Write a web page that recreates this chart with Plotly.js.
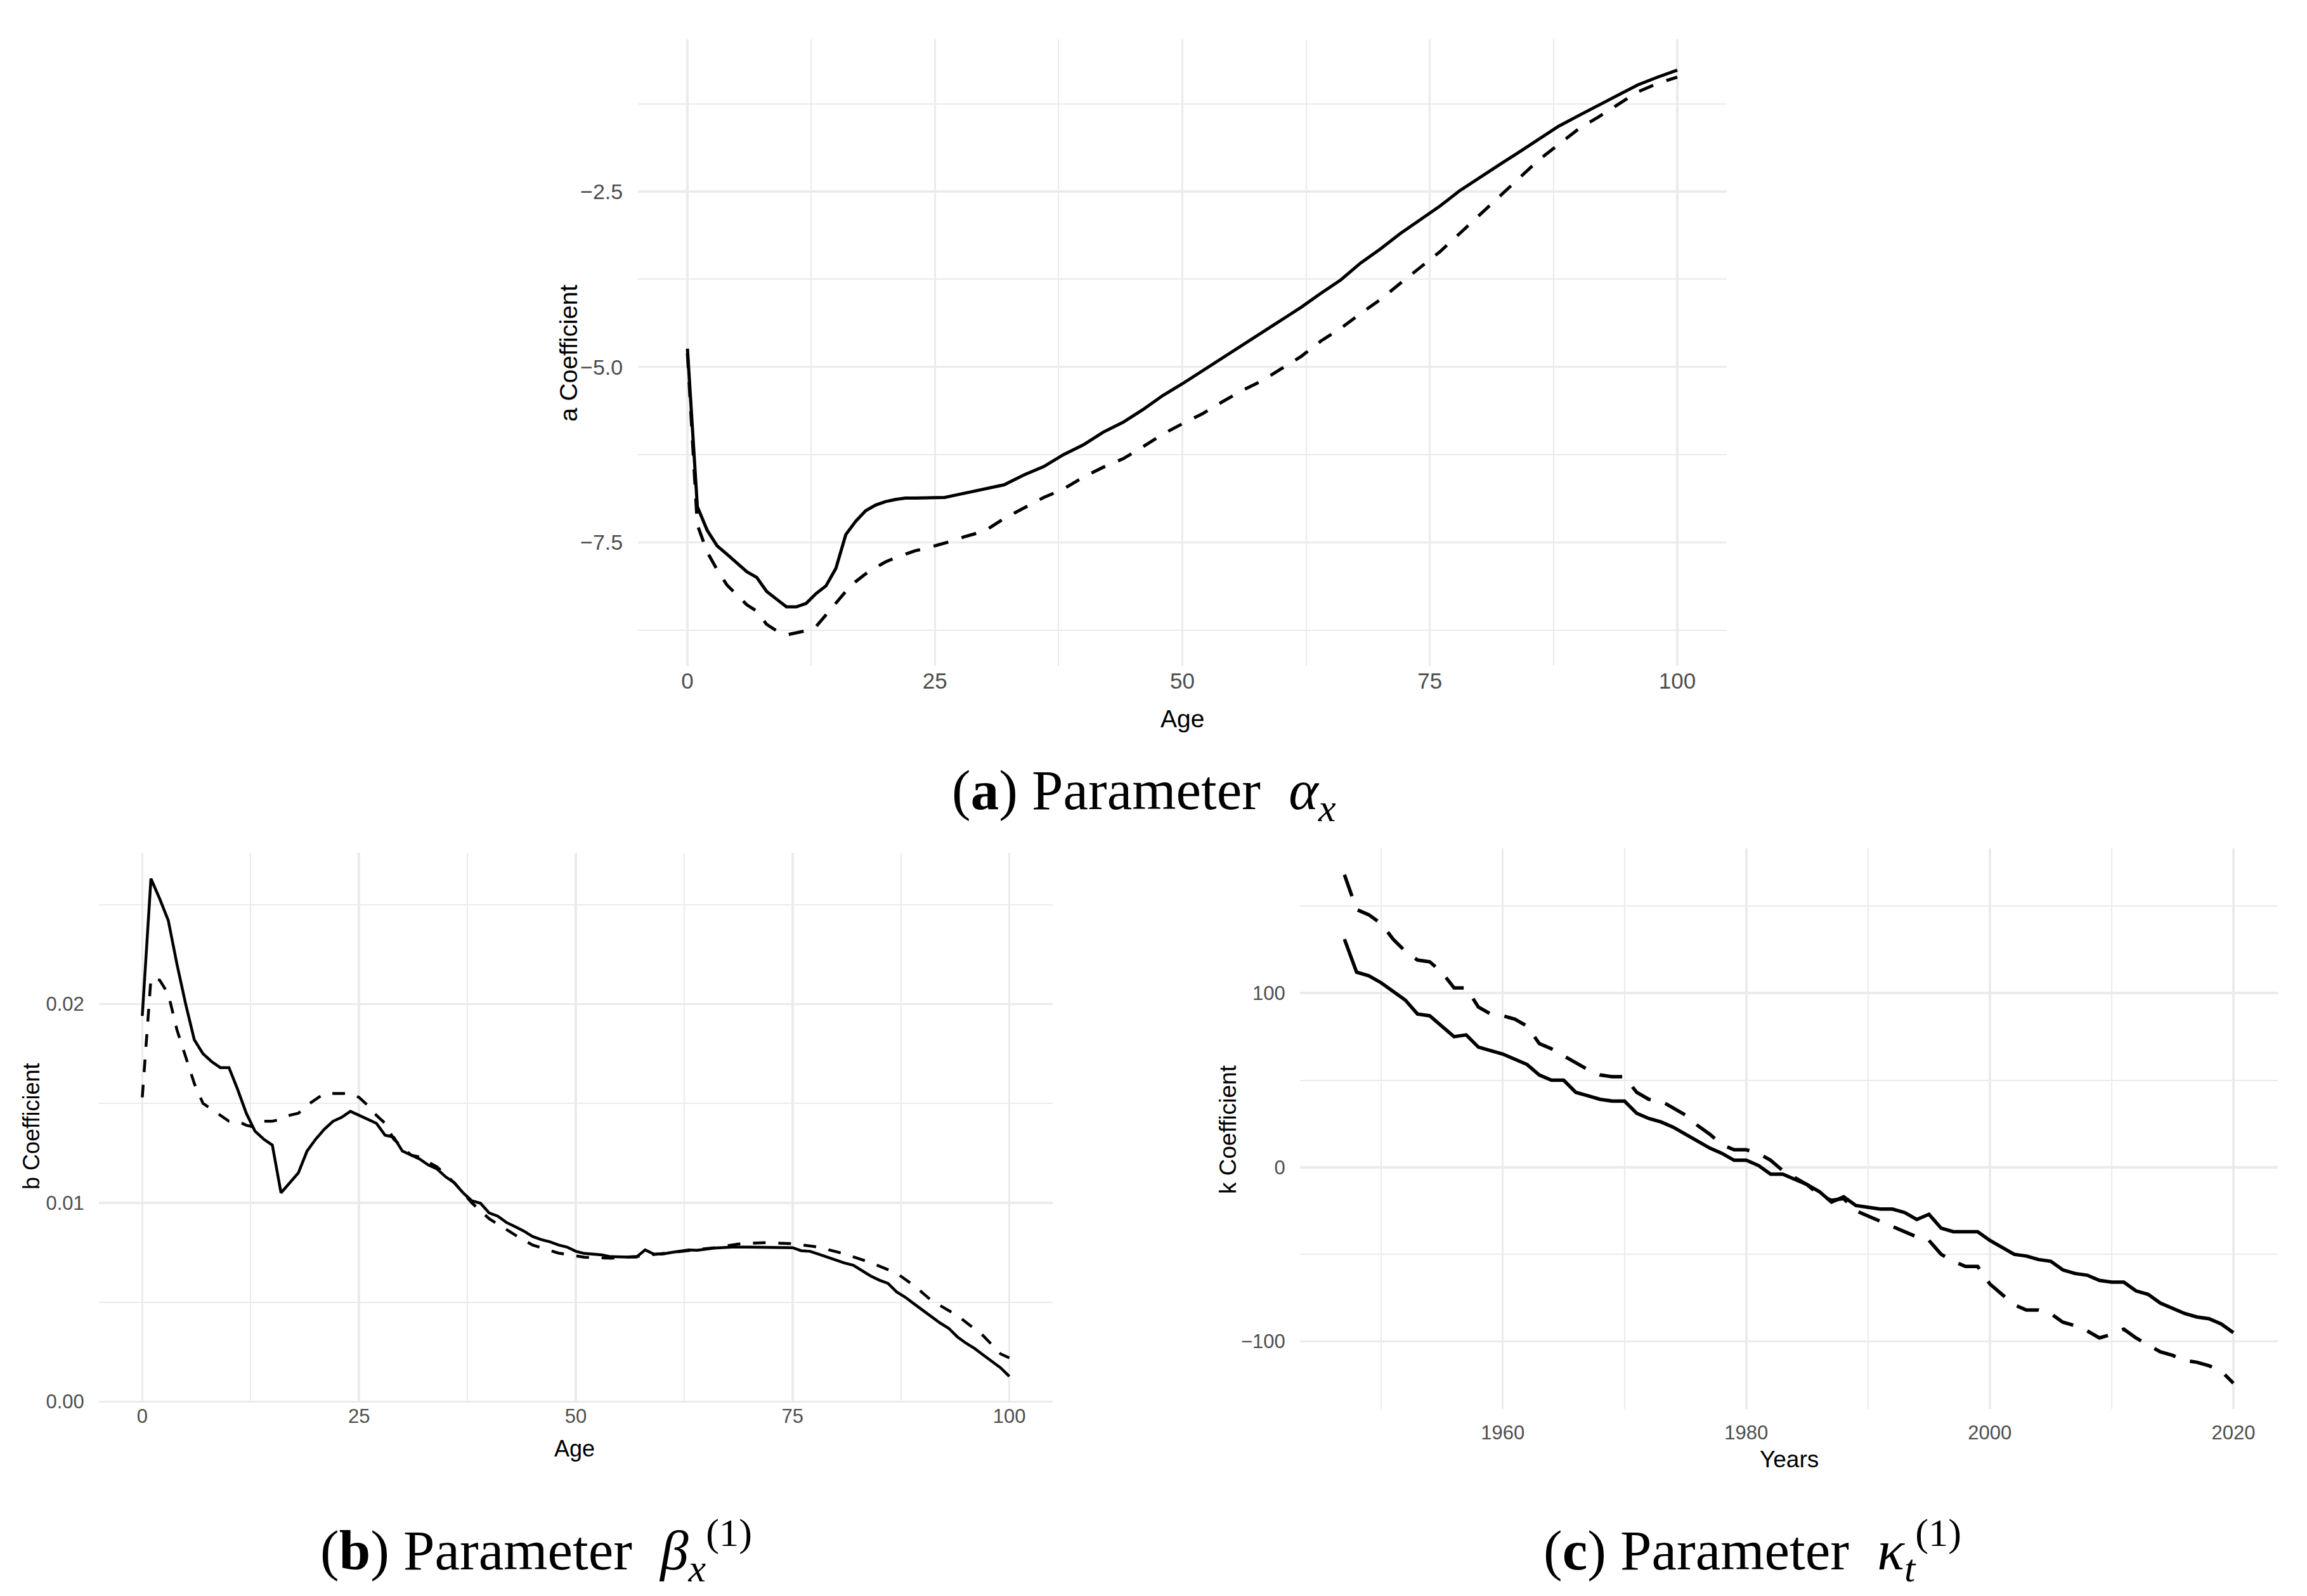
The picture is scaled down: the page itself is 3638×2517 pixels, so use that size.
<!DOCTYPE html>
<html>
<head>
<meta charset="utf-8">
<script src="https://cdn.plot.ly/plotly-3.0.1.min.js"></script>
<style>
  html, body { margin: 0; padding: 0; background: #ffffff; }
  #chart { width: 3638px; height: 2517px; }
</style>
</head>
<body>
<div id="chart"></div>
<script>
// (a) alpha_x by age, solid and dashed fits
const alphaAgesSolid = [0, 1, 2, 3, 4, 5, 6, 7, 8, 9, 10, 11, 12, 13, 14, 15, 16, 17, 18, 19, 20,
  21, 22, 23, 24, 25, 26, 27, 28, 29, 30, 32, 34, 36, 38, 40, 42, 44, 46, 48, 50, 52, 54, 56, 58,
  60, 62, 64, 66, 68, 70, 72, 74, 76, 78, 80, 82, 84, 86, 88, 90, 92, 94, 96, 98, 100];
const alphaSolid = [-4.74, -6.99, -7.33, -7.55, -7.67, -7.80, -7.92, -8.00, -8.20, -8.31, -8.42,
  -8.42, -8.37, -8.23, -8.12, -7.87, -7.39, -7.20, -7.05, -6.97, -6.92, -6.89, -6.87, -6.87, -6.87,
  -6.87, -6.86, -6.83, -6.80, -6.78, -6.75, -6.68, -6.54, -6.42, -6.25, -6.11, -5.93, -5.79, -5.61,
  -5.41, -5.24, -5.06, -4.88, -4.70, -4.51, -4.33, -4.15, -3.95, -3.76, -3.52, -3.32, -3.10, -2.90,
  -2.71, -2.49, -2.30, -2.12, -1.94, -1.76, -1.57, -1.42, -1.27, -1.13, -0.98, -0.87, -0.77];
const alphaAgesDashed = alphaAgesSolid;
const alphaDashed = [-4.80, -7.25, -7.64, -7.89, -8.11, -8.25, -8.39, -8.48, -8.67, -8.76, -8.82,
  -8.79, -8.76, -8.70, -8.53, -8.36, -8.20, -8.06, -7.95, -7.86, -7.78, -7.72, -7.67, -7.62, -7.59,
  -7.55, -7.52, -7.47, -7.42, -7.38, -7.34, -7.16, -7.01, -6.86, -6.74, -6.57, -6.43, -6.31, -6.14,
  -5.96, -5.81, -5.67, -5.50, -5.34, -5.20, -5.03, -4.85, -4.63, -4.45, -4.24, -4.04, -3.81, -3.59,
  -3.36, -3.10, -2.84, -2.58, -2.32, -2.05, -1.83, -1.61, -1.44, -1.26, -1.08, -0.96, -0.87];

// (b) beta_x by age
const betaAgesSolid = [0, 1, 2, 3, 4, 5, 6, 7, 8, 9, 10, 11, 12, 13, 14, 15, 16, 17, 18, 19, 20,
  21, 22, 23, 24, 25, 26, 27, 28, 29, 30, 31, 32, 33, 34, 35, 36, 37, 38, 39, 40, 41, 42, 43, 44,
  45, 46, 47, 48, 49, 50, 51, 52, 53, 54, 55, 56, 57, 58, 59, 60, 61, 62, 63, 64, 65, 66, 67, 68,
  70, 72, 74, 75, 76, 77, 78, 79, 80, 81, 82, 83, 84, 85, 86, 87, 88, 89, 90, 91, 92, 93, 94, 95,
  96, 97, 98, 99, 100];
const betaSolid = [0.0194, 0.0263, 0.0253, 0.0242, 0.0220, 0.0200, 0.0182, 0.0175, 0.0171, 0.0168,
  0.0168, 0.0157, 0.0145, 0.0136, 0.0132, 0.0129, 0.0105, 0.0110, 0.0115, 0.0126, 0.0132, 0.0137,
  0.0141, 0.0143, 0.0146, 0.0144, 0.0142, 0.0140, 0.0134, 0.0133, 0.0126, 0.0124, 0.0122, 0.0119,
  0.0117, 0.0113, 0.0110, 0.0105, 0.0101, 0.00998, 0.00949, 0.00933, 0.00901, 0.00880, 0.00858,
  0.00831, 0.00815, 0.00804, 0.00788, 0.00777, 0.00756, 0.00745, 0.00742, 0.00738, 0.00729,
  0.00727, 0.00727, 0.00727, 0.00763, 0.00742, 0.00742, 0.00750, 0.00756, 0.00763, 0.00761,
  0.00767, 0.00772, 0.00775, 0.00777, 0.00777, 0.00777, 0.00777, 0.00774, 0.00759, 0.00756,
  0.00742, 0.00727, 0.00713, 0.00697, 0.00686, 0.00659, 0.00632, 0.00611, 0.00595, 0.00552,
  0.00525, 0.00492, 0.00460, 0.00428, 0.00396, 0.00369, 0.00326, 0.00294, 0.00267, 0.00234,
  0.00202, 0.00170, 0.00127];
const betaAgesDashed = [0, 1, 2, 3, 4, 5, 6, 7, 8, 9, 10, 11, 12, 13, 14, 15, 16, 17, 18, 19, 20,
  21, 22, 23, 24, 25, 26, 27, 28, 29, 30, 31, 32, 34, 36, 38, 40, 43, 45, 48, 51, 54, 57, 60, 63,
  66, 69, 72, 75, 78, 81, 84, 87, 89, 91, 94, 97, 99, 100];
const betaDashed = [0.0153, 0.0213, 0.0212, 0.0205, 0.0187, 0.0173, 0.0160, 0.0150, 0.0147,
  0.0144, 0.0141, 0.0141, 0.0139, 0.0138, 0.0141, 0.0141, 0.0142, 0.0144, 0.0145, 0.0149, 0.0152,
  0.0155, 0.0155, 0.0155, 0.0155, 0.0153, 0.0149, 0.0144, 0.0140, 0.0132, 0.0128, 0.0124, 0.0123,
  0.0118, 0.0110, 0.0100, 0.0092, 0.00838, 0.00788, 0.00747, 0.00726, 0.00721, 0.00730, 0.00745,
  0.00761, 0.00774, 0.00794, 0.00800, 0.00794, 0.00777, 0.00743, 0.00699, 0.00646, 0.00584,
  0.00509, 0.00433, 0.00331, 0.00240, 0.00220];

// (c) kappa_t by year
const kappaYears = [1947, 1948, 1949, 1950, 1951, 1952, 1953, 1954, 1955, 1956, 1957, 1958, 1959,
  1960, 1961, 1962, 1963, 1964, 1965, 1966, 1967, 1968, 1969, 1970, 1971, 1972, 1973, 1974, 1975,
  1976, 1977, 1978, 1979, 1980, 1981, 1982, 1983, 1984, 1985, 1986, 1987, 1988, 1989, 1990, 1991,
  1992, 1993, 1994, 1995, 1996, 1997, 1998, 1999, 2000, 2001, 2002, 2003, 2004, 2005, 2006, 2007,
  2008, 2009, 2010, 2011, 2012, 2013, 2014, 2015, 2016, 2017, 2018, 2019, 2020];
const kappaSolid = [131, 112, 110, 106, 101, 96, 88, 87, 81, 75, 76, 69, 67, 65, 62, 59, 53, 50, 50,
  43, 41, 39, 38, 38, 31, 28, 26, 23, 19, 15, 11, 8, 4, 4, 1, -4, -4, -7, -10, -14, -20, -17, -22,
  -23, -24, -24, -26, -30, -27, -35, -37, -37, -37, -42, -46, -50, -51, -53, -54, -59, -61, -62,
  -65, -66, -66, -71, -73, -78, -81, -84, -86, -87, -90, -95];
const kappaDashed = [168, 148, 145, 140, 131, 124, 119, 118, 112, 103, 103, 92, 88, 87, 85, 81, 71,
  68, 64, 60, 56, 53, 52, 52, 43, 39, 38, 34, 30, 24, 19, 13, 10, 10, 8, 4, -2, -6, -10, -16, -19,
  -18, -25, -28, -31, -34, -37, -40, -42, -50, -54, -57, -57, -67, -73, -79, -82, -82, -84, -89,
  -91, -94, -98, -96, -93, -98, -102, -106, -108, -111, -112, -114, -117, -124];

const W = 3638;
const H = 2517;
const sansFont = "Liberation Sans, Arial, sans-serif";
const serifFont = "Liberation Serif, Times New Roman, serif";
const gridColor = "#EBEBEB";
const tickColor = "#4D4D4D";

// paper coordinates from pixel positions on the page
const px = (x) => x / W;
const py = (y) => 1 - y / H;

const lineTrace = (x, y, xa, ya, width, dash) => ({
  type: "scatter",
  mode: "lines",
  x: x,
  y: y,
  xaxis: xa,
  yaxis: ya,
  showlegend: false,
  hoverinfo: "skip",
  line: { color: "#000000", width: width, dash: dash },
});

// ggplot-like minimal axis: no lines, light major + minor grid, labels pushed off by invisible ticks
const axis = (domain, range, dtick, minorTick, fontSize, standoff, extra) =>
  Object.assign(
    {
      domain: domain,
      range: range,
      dtick: dtick,
      tick0: 0,
      showgrid: true,
      gridcolor: gridColor,
      gridwidth: 3.5,
      zeroline: false,
      showline: false,
      ticks: standoff > 0 ? "outside" : "",
      ticklen: standoff,
      tickcolor: "rgba(0,0,0,0)",
      tickfont: { family: sansFont, size: fontSize, color: tickColor },
      minor: { dtick: minorTick, showgrid: true, gridcolor: gridColor, gridwidth: 2 },
      fixedrange: true,
    },
    extra || {}
  );

const axisTitle = (text, x, y, size, angle) => ({
  text: text,
  xref: "paper",
  yref: "paper",
  x: px(x),
  y: py(y),
  xanchor: "center",
  yanchor: "middle",
  showarrow: false,
  textangle: angle || 0,
  font: { family: sansFont, size: size, color: "#000000" },
});

const caption = (text, x, y) => ({
  text: text,
  xref: "paper",
  yref: "paper",
  x: px(x),
  y: py(y),
  xanchor: "center",
  yanchor: "middle",
  showarrow: false,
  font: { family: serifFont, size: 89, color: "#000000" },
});

const data = [
  lineTrace(alphaAgesSolid, alphaSolid, "x", "y", 5, "solid"),
  lineTrace(alphaAgesDashed, alphaDashed, "x", "y", 5, "24px,22px"),
  lineTrace(betaAgesSolid, betaSolid, "x2", "y2", 4.5, "solid"),
  lineTrace(betaAgesDashed, betaDashed, "x2", "y2", 4.5, "20px,20px"),
  lineTrace(kappaYears, kappaSolid, "x3", "y3", 5.5, "solid"),
  lineTrace(kappaYears, kappaDashed, "x3", "y3", 5.5, "36px,24px"),
];

const layout = {
  width: W,
  height: H,
  margin: { l: 0, r: 0, t: 0, b: 0 },
  paper_bgcolor: "#ffffff",
  plot_bgcolor: "#ffffff",
  showlegend: false,
  xaxis: axis([px(1006), px(2723)], [-5, 105], 25, 12.5, 35, 0, { anchor: "y" }),
  yaxis: axis([py(1050), py(62)], [-9.26, -0.33], 2.5, 1.25, 34, 16, {
    anchor: "x",
    tickformat: ".1f",
  }),
  xaxis2: axis([px(156), px(1660)], [-5, 105], 25, 12.5, 31, 0, { anchor: "y2" }),
  yaxis2: axis([py(2212), py(1345)], [-0.00005, 0.0276], 0.01, 0.005, 31, 16, {
    anchor: "x2",
    tickformat: ".2f",
  }),
  xaxis3: axis([px(2050), px(3592)], [1943.35, 2023.65], 20, 10, 31, 10, {
    anchor: "y3",
    tick0: 1960,
    minor: { dtick: 10, tick0: 1950, showgrid: true, gridcolor: gridColor, gridwidth: 2 },
  }),
  yaxis3: axis([py(2222), py(1338)], [-138.8, 183.1], 100, 50, 31, 16, { anchor: "x3" }),
  annotations: [
    axisTitle("Age", 1864, 1133, 39),
    axisTitle("a Coefficient", 896, 557, 39, -90),
    axisTitle("Age", 906, 2284, 36),
    axisTitle("b Coefficient", 49, 1777, 36, -90),
    axisTitle("Years", 2821, 2301, 37),
    axisTitle("k Coefficient", 1936, 1781, 37, -90),
    caption("(<b>a</b>) Parameter  <i>α<sub>x</sub></i>", 1804, 1252),
    caption("(<b>b</b>) Parameter  <i>β</i><sub><i>x</i></sub><sup>(1)</sup>", 845, 2444),
    caption("(<b>c</b>) Parameter  <i>κ</i><sub><i>t</i></sub><sup>(1)</sup>", 2763, 2444),
  ],
};

Plotly.newPlot("chart", data, layout, { staticPlot: true, displayModeBar: false });
</script>
</body>
</html>
